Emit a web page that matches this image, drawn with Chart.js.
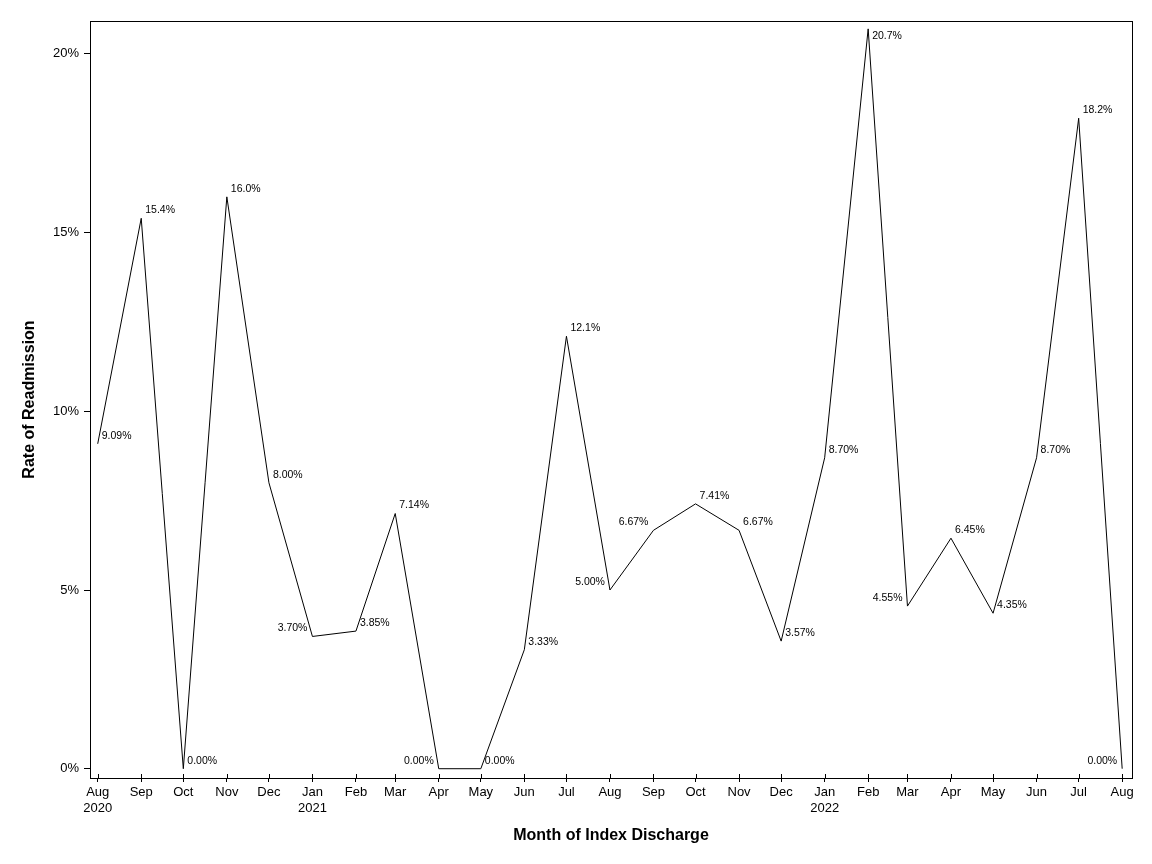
<!DOCTYPE html>
<html lang="en">
<head>
    <meta charset="UTF-8">
    <title>Rate of Readmission</title>
    <script src="https://cdn.jsdelivr.net/npm/chart.js"></script>
    <style>
        body { margin: 0; background: #fff; }
    </style>
</head>
<body>
    <canvas id="Chart" width="1152" height="864"></canvas>
    <script>
        // month of index discharge (first day of month) and readmission rate in %
        const months = ['2020-08', '2020-09', '2020-10', '2020-11', '2020-12',
                        '2021-01', '2021-02', '2021-03', '2021-04', '2021-05', '2021-06',
                        '2021-07', '2021-08', '2021-09', '2021-10', '2021-11', '2021-12',
                        '2022-01', '2022-02', '2022-03', '2022-04', '2022-05', '2022-06',
                        '2022-07', '2022-08'];
        const rates = [9.09, 15.4, 0, 16.0, 8.00, 3.70, 3.85, 7.14, 0, 0, 3.33, 12.1,
                       5.00, 6.67, 7.41, 6.67, 3.57, 8.70, 20.7, 4.55, 6.45, 4.35, 8.70,
                       18.2, 0];
        const xTickLabels = [['Aug', '2020'], 'Sep', 'Oct', 'Nov', 'Dec', ['Jan', '2021'],
                             'Feb', 'Mar', 'Apr', 'May', 'Jun', 'Jul', 'Aug', 'Sep', 'Oct',
                             'Nov', 'Dec', ['Jan', '2022'], 'Feb', 'Mar', 'Apr', 'May',
                             'Jun', 'Jul', 'Aug'];
        const yTicks = [0, 5, 10, 15, 20];

        const FONT = "'Liberation Sans', Arial, sans-serif";
        const base = Date.UTC(2020, 7, 1);
        function dayOf(s) {
            const [y, m] = s.split('-').map(Number);
            return (Date.UTC(y, m - 1, 1) - base) / 864e5;
        }
        function fmt(v) {
            if (v === 0) return '0.00%';
            return (v < 10 ? v.toFixed(2) : v.toFixed(1)) + '%';
        }

        // which labels sit left of their point / below it
        const leftSide = new Set([5, 8, 12, 13, 19, 24]);
        const below = new Set([18]);

        const pointLabels = {
            id: 'pointLabels',
            afterDatasetsDraw(chart) {
                const ctx = chart.ctx;
                const meta = chart.getDatasetMeta(0);
                ctx.save();
                ctx.font = '10.5px ' + FONT;
                ctx.fillStyle = '#000';
                ctx.textBaseline = 'middle';
                meta.data.forEach((pt, i) => {
                    const left = leftSide.has(i);
                    ctx.textAlign = left ? 'right' : 'left';
                    ctx.fillText(fmt(rates[i]), pt.x + (left ? -5 : 4), pt.y + (below.has(i) ? 7 : -8));
                });
                ctx.restore();
            },
            afterDraw(chart) {
                const ctx = chart.ctx;
                const a = chart.chartArea;
                ctx.save();
                ctx.strokeStyle = '#000';
                ctx.lineWidth = 1;
                ctx.strokeRect(Math.round(a.left) + 0.5, Math.round(a.top) + 0.5,
                               Math.round(a.right - a.left), Math.round(a.bottom - a.top));
                // x ticks also poke a little into the plot
                const xs = chart.scales.x;
                ctx.beginPath();
                xs.ticks.forEach(t => {
                    const px = Math.round(xs.getPixelForValue(t.value)) + 0.5;
                    ctx.moveTo(px, a.bottom);
                    ctx.lineTo(px, a.bottom - 4);
                });
                ctx.stroke();
                ctx.restore();
            }
        };

        const ctx = document.getElementById('Chart').getContext('2d');
        Chart.defaults.font.family = FONT;
        Chart.defaults.color = '#000';

        new Chart(ctx, {
            type: 'line',
            data: {
                datasets: [{
                    data: months.map((m, i) => ({ x: dayOf(m), y: rates[i] })),
                    borderColor: '#000',
                    borderWidth: 1,
                    pointRadius: 0,
                    tension: 0,
                    fill: false
                }]
            },
            options: {
                responsive: false,
                animation: false,
                layout: { padding: { top: 21, right: 20, left: 0, bottom: 0 } },
                plugins: {
                    legend: { display: false },
                    tooltip: { enabled: false }
                },
                scales: {
                    x: {
                        type: 'linear',
                        min: -5.5,
                        max: 737,
                        afterBuildTicks: s => { s.ticks = months.map(m => ({ value: dayOf(m) })); },
                        afterFit: s => { s.height = 86; },
                        ticks: {
                            autoSkip: false,
                            maxRotation: 0,
                            padding: 3,
                            font: { size: 13 },
                            callback: (v, i) => xTickLabels[i]
                        },
                        grid: { drawOnChartArea: false, tickLength: 4, color: '#000' },
                        border: { color: '#000', width: 1 },
                        title: {
                            display: true,
                            text: 'Month of Index Discharge',
                            font: { size: 16, weight: 'bold' },
                            padding: { top: 0, bottom: 19 }
                        }
                    },
                    y: {
                        min: -0.26,
                        max: 20.92,
                        afterBuildTicks: s => { s.ticks = yTicks.map(v => ({ value: v })); },
                        afterFit: s => { s.width = 90; },
                        ticks: {
                            padding: 5,
                            font: { size: 13 },
                            callback: v => v + '%'
                        },
                        grid: { drawOnChartArea: false, tickLength: 6, color: '#000' },
                        border: { color: '#000', width: 1 },
                        title: {
                            display: true,
                            text: 'Rate of Readmission',
                            font: { size: 16, weight: 'bold' },
                            padding: { top: 20, bottom: 0 }
                        }
                    }
                }
            },
            plugins: [pointLabels]
        });
    </script>
</body>
</html>
